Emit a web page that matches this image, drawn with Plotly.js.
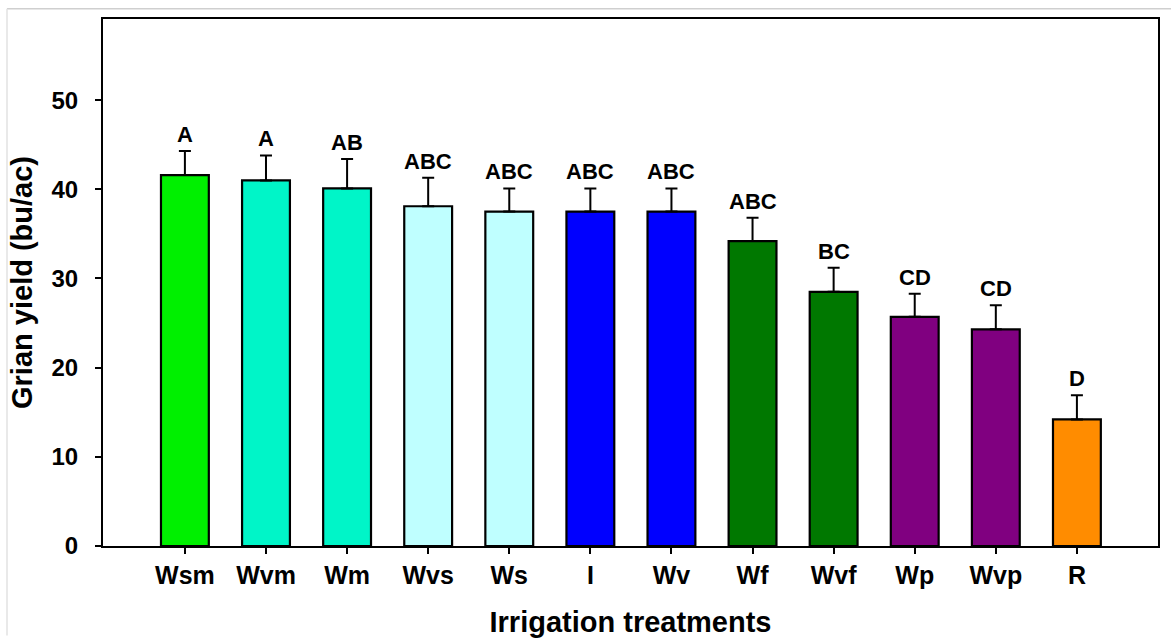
<!DOCTYPE html>
<html>
<head>
<meta charset="utf-8">
<script src="https://cdn.plot.ly/plotly-3.0.1.min.js"></script>
<style>
  html, body { margin: 0; padding: 0; background: #ffffff; }
  #chart { width: 1171px; height: 638px; }
</style>
</head>
<body>
<div id="chart"></div>
<script>
// Irrigation treatments and mean grain yield (bu/ac) with standard errors
const treatments = ['Wsm', 'Wvm', 'Wm', 'Wvs', 'Ws', 'I', 'Wv', 'Wf', 'Wvf', 'Wp', 'Wvp', 'R'];
const grainYield = [41.6, 41.0, 40.1, 38.1, 37.5, 37.5, 37.5, 34.2, 28.5, 25.7, 24.3, 14.2];
const stdError   = [2.7, 2.8, 3.3, 3.2, 2.6, 2.6, 2.6, 2.6, 2.7, 2.6, 2.7, 2.7];
const noLowerErr = [0, 0, 0, 0, 0, 0, 0, 0, 0, 0, 0, 0];
const groupLetters = ['A', 'A', 'AB', 'ABC', 'ABC', 'ABC', 'ABC', 'ABC', 'BC', 'CD', 'CD', 'D'];
const barColors = ['#00F000', '#00F5C8', '#00F5C8', '#BFFFFF', '#BFFFFF', '#0000FF', '#0000FF',
                   '#007800', '#007800', '#800080', '#800080', '#FF8C00'];
const yTicks = [0, 10, 20, 30, 40, 50];

const FONT = '"Liberation Sans", Arial, sans-serif';

const trace = {
  type: 'bar',
  x: treatments,
  y: grainYield,
  width: 0.59,
  marker: { color: barColors, line: { color: '#000000', width: 2.2 } },
  error_y: {
    type: 'data', symmetric: false,
    array: stdError, arrayminus: noLowerErr,
    color: '#000000', thickness: 2, width: 6
  },
  hoverinfo: 'x+y'
};

// significance letters sit just above each error bar cap
const letterNotes = treatments.map((t, i) => ({
  x: t, y: grainYield[i] + stdError[i],
  xref: 'x', yref: 'y',
  text: groupLetters[i],
  showarrow: false,
  yanchor: 'bottom',
  yshift: 2,
  font: { family: FONT, size: 22, color: '#000000', weight: 'bold' }
}));

const layout = {
  width: 1171, height: 638,
  margin: { l: 103, r: 13, t: 19, b: 92 },
  paper_bgcolor: '#ffffff',
  plot_bgcolor: '#ffffff',
  showlegend: false,
  bargap: 0.4,
  font: { family: FONT, color: '#000000' },
  xaxis: {
    type: 'category',
    range: [-1.01, 12.0],
    showgrid: false, zeroline: false,
    showline: true, linecolor: '#000000', linewidth: 2, mirror: true,
    ticks: 'outside', ticklen: 6, tickwidth: 2, tickcolor: '#000000',
    tickfont: { family: FONT, size: 25, color: '#000000', weight: 'bold' },
    title: {
      text: 'Irrigation treatments',
      font: { family: FONT, size: 29, color: '#000000', weight: 'bold' },
      standoff: 30
    },
    fixedrange: true
  },
  yaxis: {
    range: [0, 59.1],
    tickvals: yTicks,
    showgrid: false, zeroline: false,
    showline: true, linecolor: '#000000', linewidth: 2, mirror: true,
    ticks: 'outside', ticklen: 6, tickwidth: 2, tickcolor: '#000000',
    ticklabelstandoff: 12,
    tickfont: { family: FONT, size: 24, color: '#000000', weight: 'bold' },
    title: {
      text: 'Grian yield (bu/ac)',
      font: { family: FONT, size: 29, color: '#000000', weight: 'bold' },
      standoff: 10
    },
    fixedrange: true
  },
  annotations: letterNotes,
  // thin light frame around the figure (top and left edges)
  shapes: [
    { type: 'line', xref: 'paper', yref: 'paper',
      x0: -0.0910, x1: 1.02, y0: 1.0195, y1: 1.0195,
      line: { color: '#cfcfcf', width: 1.5 } },
    { type: 'line', xref: 'paper', yref: 'paper',
      x0: -0.0910, x1: -0.0910, y0: 1.0195, y1: -0.17,
      line: { color: '#e2e2e2', width: 1.5 } }
  ]
};

Plotly.newPlot('chart', [trace], layout, { displayModeBar: false, staticPlot: true });
</script>
</body>
</html>
